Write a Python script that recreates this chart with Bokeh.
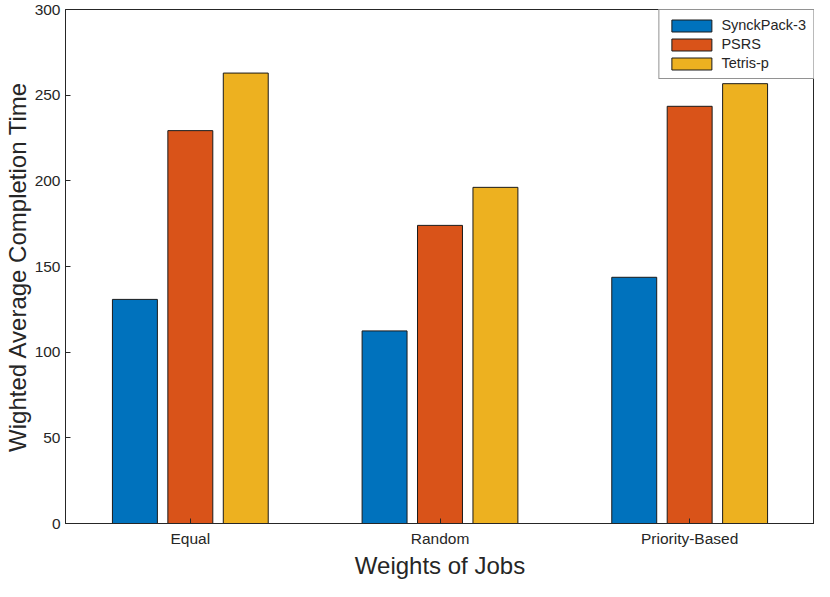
from bokeh.plotting import figure
from bokeh.models import ColumnDataSource, FactorRange, Range1d, FixedTicker, Legend, LegendItem
from bokeh.transform import dodge
from bokeh.embed import file_html
from bokeh.resources import INLINE

categories = ["Equal", "Random", "Priority-Based"]
series_names = ["SynckPack-3", "PSRS", "Tetris-p"]
synckpack = [130.8, 112.4, 143.7]
psrs = [229.3, 174.0, 243.5]
tetris = [262.9, 196.2, 256.7]
y_ticks = [0, 50, 100, 150, 200, 250, 300]

colors = ["#0072BD", "#D95319", "#EDB120"]
FONT = "Liberation Sans"
TXT = "#262626"

source = ColumnDataSource(data=dict(cat=categories, s1=synckpack, s2=psrs, s3=tetris))

p = figure(x_range=FactorRange(*categories, range_padding=0), y_range=Range1d(0, 300),
           width=814, height=581, output_backend="svg", toolbar_location=None,
           min_border_left=56, min_border_right=0, min_border_top=9, min_border_bottom=50)

offsets = [-0.222, 0.0, 0.222]
renderers = []
for key, off, col in zip(["s1", "s2", "s3"], offsets, colors):
    r = p.vbar(x=dodge("cat", off, range=p.x_range), top=key, width=0.18, bottom=0,
               source=source, fill_color=col, line_color="#1a1a1a", line_width=1)
    renderers.append(r)

p.xgrid.visible = False
p.ygrid.visible = False
p.outline_line_color = TXT
p.outline_line_width = 1
p.background_fill_color = "white"
p.border_fill_color = "white"

p.yaxis.ticker = FixedTicker(ticks=y_ticks)
for ax in (p.xaxis[0], p.yaxis[0]):
    ax.major_tick_in = 5
    ax.major_tick_out = 0
    ax.minor_tick_in = 0
    ax.minor_tick_out = 0
    ax.axis_line_color = TXT
    ax.major_tick_line_color = TXT
    ax.major_label_text_font = FONT
    ax.major_label_text_font_size = "15.5px"
    ax.major_label_text_color = TXT
    ax.axis_label_text_font = FONT
    ax.axis_label_text_font_size = "24px"
    ax.axis_label_text_font_style = "normal"
    ax.axis_label_text_color = TXT

p.xaxis.axis_label = "Weights of Jobs"
p.yaxis.axis_label = "Wighted Average Completion Time"
p.xaxis.major_label_standoff = 6
p.yaxis.major_label_standoff = 5
p.xaxis.axis_label_standoff = 2
p.yaxis.axis_label_standoff = 1

legend = Legend(items=[LegendItem(label=n, renderers=[r]) for n, r in zip(series_names, renderers)],
                location="top_right")
legend.margin = 0
legend.padding = 7
legend.spacing = 3
legend.glyph_width = 50
legend.glyph_height = 15
legend.label_height = 15
legend.label_standoff = 5
legend.label_text_font = FONT
legend.label_text_font_size = "14.5px"
legend.label_text_color = TXT
legend.border_line_color = TXT
legend.border_line_width = 1
legend.background_fill_alpha = 1
p.add_layout(legend)

open("out.html", "w").write(file_html(p, INLINE))
